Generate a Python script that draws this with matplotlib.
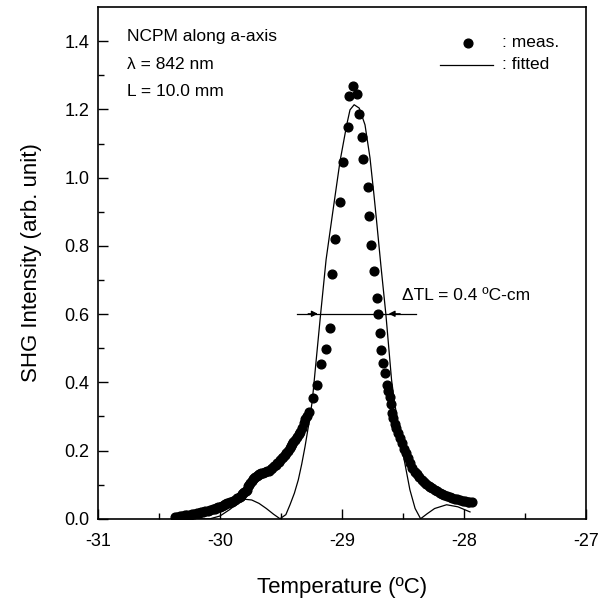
import matplotlib
matplotlib.use("Agg")
import matplotlib.pyplot as plt

plt.rcParams['font.family'] = ['Liberation Sans', 'DejaVu Sans']

# measured points, left tail (dense band in the picture)
left_T = [-30.37, -30.35, -30.33, -30.31, -30.29, -30.27, -30.25, -30.23, -30.21, -30.19,
          -30.17, -30.155, -30.14, -30.12, -30.10, -30.08, -30.06, -30.045, -30.03, -30.015,
          -30.00, -29.985, -29.97, -29.955, -29.94, -29.93, -29.92, -29.905, -29.89, -29.875,
          -29.86, -29.85, -29.84, -29.83, -29.82, -29.81, -29.80, -29.79, -29.78, -29.77,
          -29.76, -29.75, -29.74, -29.73, -29.72, -29.71, -29.70, -29.69, -29.68, -29.67,
          -29.66, -29.645, -29.63, -29.615, -29.60, -29.585, -29.57, -29.555, -29.54, -29.53,
          -29.52, -29.505, -29.49, -29.48, -29.47, -29.455, -29.445, -29.43, -29.42, -29.41,
          -29.40, -29.385, -29.37, -29.355, -29.342, -29.33, -29.314, -29.30, -29.29, -29.268]
left_I = [0.005, 0.006, 0.008, 0.009, 0.010, 0.011, 0.012, 0.014, 0.015, 0.016,
          0.018, 0.019, 0.020, 0.022, 0.024, 0.026, 0.028, 0.030, 0.031, 0.033,
          0.035, 0.037, 0.040, 0.042, 0.045, 0.047, 0.048, 0.050, 0.053, 0.056,
          0.060, 0.062, 0.065, 0.068, 0.072, 0.075, 0.078, 0.081, 0.085, 0.095,
          0.100, 0.105, 0.112, 0.116, 0.120, 0.123, 0.126, 0.128, 0.130, 0.132,
          0.133, 0.135, 0.137, 0.139, 0.141, 0.145, 0.150, 0.154, 0.158, 0.162,
          0.167, 0.172, 0.177, 0.182, 0.188, 0.194, 0.199, 0.206, 0.212, 0.218,
          0.225, 0.232, 0.240, 0.247, 0.253, 0.265, 0.282, 0.292, 0.300, 0.313]

# measured points around the peak
peak_T = [-29.24, -29.207, -29.175, -29.134, -29.10, -29.08, -29.057, -29.019, -28.989, -28.953,
          -28.94, -28.913, -28.88, -28.861, -28.836, -28.828, -28.79, -28.776, -28.762, -28.738,
          -28.716, -28.705, -28.689, -28.68, -28.66, -28.645, -28.634]
peak_I = [0.355, 0.391, 0.455, 0.498, 0.560, 0.719, 0.820, 0.928, 1.047, 1.148,
          1.241, 1.270, 1.246, 1.186, 1.120, 1.054, 0.972, 0.887, 0.802, 0.725,
          0.646, 0.600, 0.545, 0.496, 0.457, 0.428, 0.391]

# measured points, right tail
right_T = [-28.62, -28.607, -28.60, -28.593, -28.58, -28.566, -28.553, -28.539, -28.525, -28.51,
           -28.49, -28.475, -28.46, -28.443, -28.425, -28.402, -28.385, -28.365, -28.347, -28.33,
           -28.31, -28.29, -28.279, -28.26, -28.24, -28.22, -28.197, -28.18, -28.16, -28.14,
           -28.115, -28.095, -28.075, -28.055, -28.033, -28.01, -27.99, -27.97, -27.955, -27.937]
right_I = [0.375, 0.357, 0.335, 0.309, 0.295, 0.279, 0.265, 0.250, 0.236, 0.221,
           0.205, 0.192, 0.178, 0.163, 0.150, 0.138, 0.130, 0.121, 0.114, 0.108,
           0.102, 0.097, 0.094, 0.089, 0.085, 0.080, 0.075, 0.072, 0.069, 0.066,
           0.063, 0.061, 0.059, 0.057, 0.055, 0.053, 0.051, 0.050, 0.049, 0.048]

# fitted curve
fit_T = [-30.40, -30.08, -30.00, -29.92, -29.85, -29.795, -29.74, -29.68, -29.62, -29.56,
         -29.508, -29.46, -29.426, -29.39, -29.358, -29.33, -29.303, -29.262, -29.243, -29.21,
         -29.175, -29.13, -29.075, -29.016, -28.961, -28.934, -28.90, -28.858, -28.811, -28.77,
         -28.738, -28.716, -28.68, -28.64, -28.593, -28.571, -28.51, -28.443, -28.40, -28.355,
         -28.30, -28.24, -28.142, -28.05, -27.95]
fit_I = [0.0, 0.0, 0.008, 0.027, 0.047, 0.057, 0.055, 0.045, 0.030, 0.013,
         0.0, 0.012, 0.041, 0.075, 0.114, 0.160, 0.211, 0.299, 0.347, 0.470,
         0.600, 0.760, 0.900, 1.048, 1.155, 1.199, 1.214, 1.204, 1.155, 1.058,
         0.951, 0.873, 0.740, 0.600, 0.406, 0.347, 0.211, 0.085, 0.030, 0.0,
         0.015, 0.030, 0.041, 0.035, 0.020]

x_ticks = [-31, -30, -29, -28, -27]
y_ticks = [0.0, 0.2, 0.4, 0.6, 0.8, 1.0, 1.2, 1.4]

meas_T = left_T + peak_T + right_T
meas_I = left_I + peak_I + right_I

fig = plt.figure(figsize=(6.09, 5.99), dpi=100)
ax = fig.add_axes([0.161, 0.134, 0.801, 0.854])

ax.plot(fit_T, fit_I, color='black', lw=0.9, zorder=2)
ax.plot(meas_T, meas_I, 'o', color='black', ms=6.3, mec='black', zorder=3)

ax.set_xlim(-31, -27)
ax.set_ylim(0, 1.5)
ax.set_xticks(x_ticks)
ax.set_xticklabels([str(v) for v in x_ticks])
ax.set_yticks(y_ticks)
ax.set_yticklabels(['%.1f' % v for v in y_ticks])
ax.set_xticks([-30.5, -29.5, -28.5, -27.5], minor=True)
ax.set_yticks([0.1, 0.3, 0.5, 0.7, 0.9, 1.1, 1.3], minor=True)
ax.tick_params(which='major', direction='in', length=7, width=1, labelsize=13)
ax.tick_params(axis='x', which='major', pad=10)
ax.tick_params(axis='y', which='major', pad=6)
ax.tick_params(which='minor', direction='in', length=4, width=1)
for s in ax.spines.values():
    s.set_linewidth(1.2)

ax.set_xlabel('Temperature (ºC)', fontsize=16, labelpad=20)
ax.set_ylabel('SHG Intensity (arb. unit)', fontsize=16, labelpad=16)

# text block top left
ax.text(-30.76, 1.413, 'NCPM along a-axis', fontsize=12.5, va='center')
ax.text(-30.76, 1.331, 'λ = 842 nm', fontsize=12.5, va='center')
ax.text(-30.76, 1.253, 'L = 10.0 mm', fontsize=12.5, va='center')

# legend by hand
ax.plot([-27.967], [1.396], 'o', color='black', ms=6.3)
ax.text(-27.69, 1.396, ': meas.', fontsize=12.5, va='center')
ax.plot([-28.197, -27.76], [1.331, 1.331], color='black', lw=0.9)
ax.text(-27.69, 1.331, ': fitted', fontsize=12.5, va='center')

# FWHM marker
ax.plot([-29.37, -28.39], [0.601, 0.601], color='black', lw=0.9, zorder=4)
ax.annotate('', xy=(-29.175, 0.601), xytext=(-29.30, 0.601),
            arrowprops=dict(arrowstyle='-|>', color='black', lw=0.9, mutation_scale=9))
ax.annotate('', xy=(-28.64, 0.601), xytext=(-28.50, 0.601),
            arrowprops=dict(arrowstyle='-|>', color='black', lw=0.9, mutation_scale=9))
ax.text(-28.508, 0.654, 'ΔTL = 0.4 ºC-cm', fontsize=12.5, va='center')

fig.savefig('out.png', dpi=100)
